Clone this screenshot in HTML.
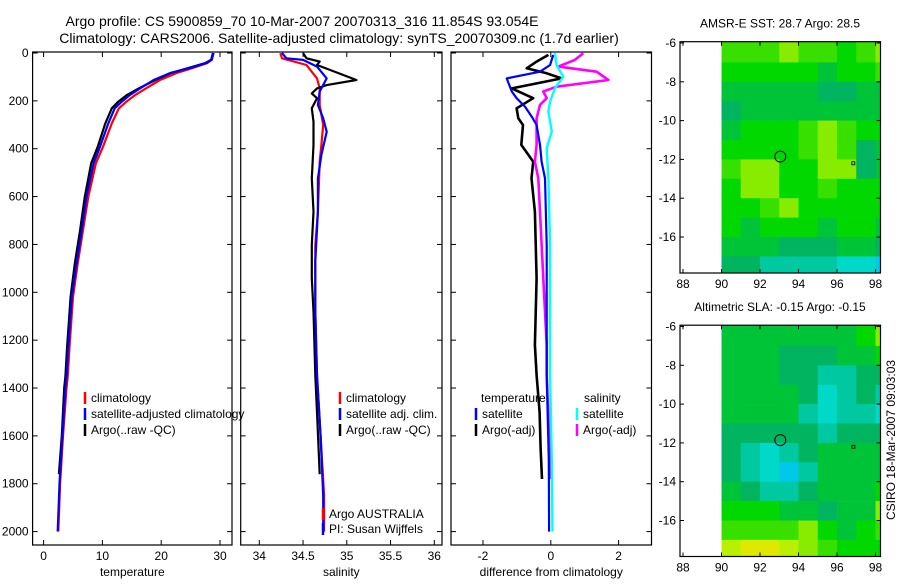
<!DOCTYPE html>
<html><head><meta charset="utf-8"><style>
body{margin:0;background:#fff;}
svg text{font-family:"Liberation Sans",sans-serif;fill:#000;}
</style></head><body>
<svg id="fig" width="900" height="580" xmlns="http://www.w3.org/2000/svg">
<text x="302" y="26" font-size="14" text-anchor="middle">Argo profile: CS 5900859_70 10-Mar-2007 20070313_316 11.854S 93.054E</text>
<text x="339" y="43" font-size="14" text-anchor="middle">Climatology: CARS2006. Satellite-adjusted climatology: synTS_20070309.nc (1.7d earlier)</text>
<g id="g"></g>
</svg>
<script>
// ---- data ----
const tDepthBlue=[0,28,42,63,84,113,148,175,203,231,294,392,461,601,740,880,1019,1228,1353,1400,1600,1800,2000];
const tempBlue=[28.9,28.6,27.7,24.9,21.5,18.7,16.4,14.7,13.3,12.1,11.0,9.6,8.5,7.3,6.5,5.6,4.8,4.2,3.9,3.7,3.2,2.7,2.4];
const tempRed=[28.9,28.6,27.8,25.3,22.6,19.8,17.4,15.6,14.1,12.8,11.6,10.1,8.9,7.6,6.7,5.8,5.0,4.4,4.1,3.9,3.3,2.8,2.5];
const tDepthBlack=[0,28,42,63,84,113,148,175,203,231,294,392,461,601,740,880,1019,1228,1353,1400,1600,1760];
const tempBlack=[28.8,28.5,27.5,24.6,21.6,19.0,16.2,14.2,12.7,11.6,10.5,9.2,8.1,7.0,6.2,5.3,4.6,4.0,3.7,3.5,3.1,2.6];

const sDepthBlack=[1,22,36,50,71,113,134,148,169,189,231,287,384,524,663,802,941,1080,1346,1500,1760];
const salBlack=[34.50,34.54,34.69,34.66,34.81,35.11,34.77,34.66,34.60,34.66,34.60,34.62,34.62,34.60,34.62,34.60,34.60,34.62,34.64,34.66,34.69];
const sDepthBlue=[0,22,29,57,106,161,217,273,329,426,524,663,871,1080,1346,1600,1850,2000];
const salBlue=[34.26,34.31,34.50,34.66,34.77,34.69,34.67,34.73,34.77,34.71,34.67,34.67,34.64,34.64,34.66,34.70,34.73,34.73];
const sDepthRed=[1,22,50,106,148,217,301,384,454,663,802,1080,1346,1600,1850,2000];
const salRed=[34.24,34.26,34.54,34.66,34.69,34.69,34.73,34.71,34.69,34.67,34.64,34.64,34.66,34.70,34.74,34.74];

const dDepthTB=[8,36,64,85,106,148,189,231,273,301,384,454,524,663,941,1220,1346,1500,1650,1780];
const diffTempArgo=[-0.07,-0.42,-0.71,-0.12,0.32,-1.15,-0.52,-1.01,-0.96,-0.82,-0.87,-0.52,-0.57,-0.47,-0.42,-0.47,-0.42,-0.33,-0.30,-0.26];
const dDepthTS=[8,50,78,106,161,189,224,266,301,384,454,524,802,1346,1700,2000];
const diffTempSat=[0.07,-0.02,-0.32,-1.3,-1.15,-1.01,-0.76,-0.56,-0.42,-0.32,-0.27,-0.17,-0.12,-0.12,-0.06,-0.05];
const dDepthSS=[1,50,99,148,203,245,329,398,524,802,1346,1700,2000];
const diffSalSat=[0.12,0.17,0.37,0.12,-0.02,-0.07,0.03,-0.12,-0.07,-0.02,-0.02,0.03,0.05];
const dDepthSA=[1,29,57,78,113,141,161,189,217,273,384,454,524,663,941,1220,1346,1600,1780];
const diffSalArgo=[0.96,0.71,0.22,1.35,1.70,0.17,-0.22,-0.12,-0.32,-0.42,-0.42,-0.47,-0.37,-0.32,-0.22,-0.12,-0.12,-0.05,0.0];

const depthTicks=[0,200,400,600,800,1000,1200,1400,1600,1800,2000];
const tempTicks=[0,10,20,30];
const salTicks=[34,34.5,35,35.5,36];
const diffTicks=[-2,0,2];
const lonTicks=[88,90,92,94,96,98];
const latTicks=[-6,-8,-10,-12,-14,-16];

// map values: rows lat -6..-18 (1 deg), cols lon 90..98.3
const sstGrid=[
[7,7,7,8,7,7,6,7,8],
[6,6,6,6,6,5,6,6,7],
[5,5,5,5,5,4,4,5,5],
[4,5,5,5,5,5,5,5,5],
[5,6,6,6,7,8,7,6,6],
[6,6,6,6,7,8,7,4,5],
[7,8,8,6,6,8,8,4,5],
[6,8,8,6,6,7,6,6,6],
[6,6,7,8,6,6,6,6,6],
[6,5,6,6,6,5,6,6,5],
[5,5,5,4,4,4,5,5,4],
[4,4,3,3,3,3,2,2,1]];
const slaGrid=[
[5,5,5,5,5,5,5,6,8],
[5,5,5,4,4,4,5,5,6],
[5,5,5,4,4,3,3,4,4],
[5,5,5,5,4,2,3,4,3],
[5,5,5,5,3,2,3,3,2],
[4,4,4,4,4,3,4,4,4],
[4,3,2,3,4,5,5,5,5],
[4,3,2,1,3,5,5,5,5],
[5,4,3,3,4,5,5,5,6],
[6,6,6,5,5,4,5,5,8],
[7,7,7,7,8,6,5,6,7],
[9,10,10,9,8,7,6,6,6]];

// ---- drawing ----
const NS="http://www.w3.org/2000/svg";
const G=document.getElementById('g');
function mk(tag,attrs,parent){const e=document.createElementNS(NS,tag);for(const k in attrs)e.setAttribute(k,attrs[k]);(parent||G).appendChild(e);return e;}
const yD=d=>53+d*0.2393;
const PB=545;
function panel(name,x0,x1,sx,ticks,xlabel,showY){
  const g=mk('g',{});
  
  
  const r=mk('rect',{x:x0,y:52,width:x1-x0,height:PB-52,fill:'none',stroke:'#000','stroke-width':1.2},g);
  
  
  ticks.forEach(v=>{const x=sx(v);
    mk('line',{x1:x,x2:x,y1:PB,y2:PB-5,stroke:'#000'},g);mk('line',{x1:x,x2:x,y1:52,y2:57,stroke:'#000'},g);
    const t=mk('text',{x:x,y:560,'font-size':12,'text-anchor':'middle'},g);t.textContent=v;
    
    });
  depthTicks.forEach(d=>{const y=yD(d);
    mk('line',{x1:x0,x2:x0+5,y1:y,y2:y,stroke:'#000'},g);mk('line',{x1:x1,x2:x1-5,y1:y,y2:y,stroke:'#000'},g);
    if(showY){const t=mk('text',{x:x0-4,y:y+4,'font-size':12,'text-anchor':'end'},g);t.textContent=d;
      
      }});
  const xl=mk('text',{x:(x0+x1)/2,y:576,'font-size':12,'text-anchor':'middle'},g);xl.textContent=xlabel;
  
  
}
function line(name,xs,ds,sx,color,w){
  const pts=xs.map((v,i)=>sx(v).toFixed(1)+','+yD(ds[i]).toFixed(1)).join(' ');
  const p=mk('polyline',{points:pts,fill:'none',stroke:color,'stroke-width':w||2.2,'stroke-linejoin':'round'});
  
  
}
function legend(name,x,y,color,label){
  const g=mk('g',{});
  
  
  if(color)mk('line',{x1:x,x2:x,y1:y-10,y2:y+2,stroke:color,'stroke-width':2.5},g);
  const t=mk('text',{x:x+6,y:y,'font-size':12},g);t.textContent=label;
}
const sxT=v=>43.6+v*5.88, sxS=v=>259.3+(v-34)*87.5, sxD=v=>550.8+v*33.9;
panel('temperature-panel',32.6,232,sxT,tempTicks,'temperature',true);
panel('salinity-panel',240.7,442,sxS,salTicks,'salinity',false);
panel('difference-panel',451,651.5,sxD,diffTicks,'difference from climatology',false);

line('temp-climatology',tempRed,tDepthBlue,sxT,'#f00');
line('temp-argo',tempBlack,tDepthBlack,sxT,'#000');
line('temp-satellite-adjusted',tempBlue,tDepthBlue,sxT,'#00f');
line('sal-climatology',salRed,sDepthRed,sxS,'#f00');
line('sal-argo',salBlack,sDepthBlack,sxS,'#000');
line('sal-satellite-adjusted',salBlue,sDepthBlue,sxS,'#00f');
line('diff-temp-argo',diffTempArgo,dDepthTB,sxD,'#000',2.6);
line('diff-sal-argo',diffSalArgo,dDepthSA,sxD,'#f0f',2.6);
line('diff-temp-satellite',diffTempSat,dDepthTS,sxD,'#00f');
line('diff-sal-satellite',diffSalSat,dDepthSS,sxD,'#0ff',2.4);

legend('legend-climatology',85,402,'#f00','climatology');
legend('legend-satellite-adjusted',85,418,'#00f','satellite-adjusted climatology');
legend('legend-argo',85,434,'#000','Argo(..raw -QC)');
legend('legend2-climatology',340,402,'#f00','climatology');
legend('legend2-satellite',340,418,'#00f','satellite adj. clim.');
legend('legend2-argo',340,434,'#000','Argo(..raw -QC)');
legend('legend3-temperature-head',475,402,null,'temperature');
legend('legend3-salinity-head',578,402,null,'salinity');
legend('legend3-temp-satellite',476,418,'#00f','satellite');
legend('legend3-temp-argo',476,434,'#000','Argo(-adj)');
legend('legend3-sal-satellite',577,418,'#0ff','satellite');
legend('legend3-sal-argo',577,434,'#f0f','Argo(-adj)');
legend('credit-agency',323,518,'#f00','Argo AUSTRALIA');
legend('credit-pi',323,533,'#00f','PI: Susan Wijffels');

// maps
const cmap=['#00a8f0','#00c8e8','#00d8c8','#00c8a0','#00b460','#00c438','#00d800','#38e000','#88ec00','#b8f000','#e0e800'];
function map(name,oy,grid,title){
  const g=mk('g',{});
  
  
  const lx=l=>683+(l-88)*19.25, ly=l=>43+oy+(-6-l)*19.4;
  const top=41.7+oy, bot=273+oy, L=680, R=880.5;
  grid.forEach((row,i)=>row.forEach((v,j)=>{
    const x0=lx(90+j), x1=Math.min(R,lx(91+j));
    const y0=i===0?top:ly(-6-i), y1=Math.min(bot,ly(-7-i));
    const c=mk('rect',{x:x0,y:y0,width:x1-x0+0.3,height:y1-y0+0.3,fill:cmap[v]},g);
    
    
  }));
  mk('rect',{x:L,y:top,width:R-L,height:bot-top,fill:'none',stroke:'#000','stroke-width':1.2},g);
  lonTicks.forEach(l=>{const x=lx(l);mk('line',{x1:x,x2:x,y1:bot,y2:bot-4,stroke:'#000'},g);mk('line',{x1:x,x2:x,y1:top,y2:top+4,stroke:'#000'},g);
    const t=mk('text',{x:x,y:bot+15,'font-size':12,'text-anchor':'middle'},g);t.textContent=l;});
  latTicks.forEach(l=>{const y=ly(l);mk('line',{x1:L,x2:L+4,y1:y,y2:y,stroke:'#000'},g);mk('line',{x1:R,x2:R-4,y1:y,y2:y,stroke:'#000'},g);
    const t=mk('text',{x:L-4,y:y+4,'font-size':12,'text-anchor':'end'},g);t.textContent=l;});
  const tt=mk('text',{x:780,y:top-14,'font-size':12,'text-anchor':'middle'},g);tt.textContent=title;
  
  
  const c=mk('circle',{cx:lx(93.054),cy:ly(-11.854),r:5.5,fill:'none',stroke:'#000','stroke-width':1},g);
  
  
  mk('rect',{x:lx(96.85)-1.5,y:ly(-12.2)-1.5,width:3,height:3,fill:'none',stroke:'#000','stroke-width':0.8},g);
}
map('sst-map',0,sstGrid,'AMSR-E SST: 28.7 Argo: 28.5');
map('sla-map',283.5,slaGrid,'Altimetric SLA: -0.15 Argo: -0.15');
const ct=mk('text',{x:0,y:0,'font-size':12,'text-anchor':'middle',transform:'translate(895,440) rotate(-90)'});
ct.textContent='CSIRO 18-Mar-2007 09:03:03';


</script>
</body></html>
